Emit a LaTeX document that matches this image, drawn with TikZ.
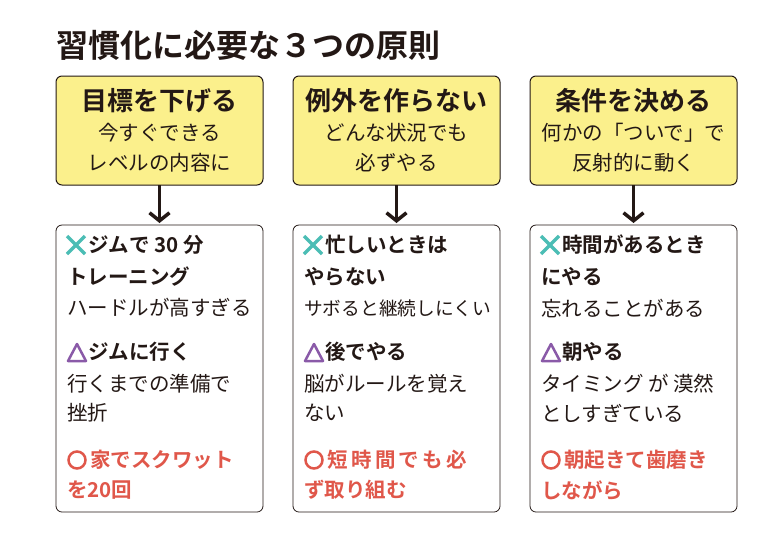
\documentclass[tikz,border=0pt]{standalone}
\usepackage{fontspec}
\setmainfont{Noto Sans CJK JP}
\newfontfamily\bjp[]{Noto Sans CJK JP Bold}
\usetikzlibrary{arrows.meta}
\definecolor{ylw}{HTML}{FBF08C}
\definecolor{tl}{HTML}{4BBDB5}
\definecolor{pp}{HTML}{8A5AA8}
\definecolor{rd}{HTML}{E0574A}
\definecolor{ink}{HTML}{231815}
\tikzset{x=1pt,y=-1pt,
 top/.style={draw=ink,line width=1pt,fill=ylw,rounded corners=6pt},
 bot/.style={draw=ink,line width=0.8pt,fill=white,rounded corners=6pt},
 ln/.style={anchor=west,inner sep=0pt,font=\fontsize{20.5}{20.5}\selectfont,text=ink},
 bl/.style={ln,font=\bjp\fontsize{20.5}{20.5}\selectfont},
 rl/.style={bl,text=rd},
 hd/.style={anchor=center,inner sep=0pt,font=\bjp\fontsize{26}{26}\selectfont,text=ink},
 sb/.style={anchor=center,inner sep=0pt,font=\fontsize{20.5}{20.5}\selectfont,text=ink},
 arr/.style={draw=ink,line width=3.5pt,-{Straight Barb[length=8pt,width=20pt,line width=3.5pt]}}}
\begin{document}
\begin{tikzpicture}
\useasboundingbox (0,0) rectangle (783,547);
\node[anchor=west,inner sep=0pt,font=\bjp\fontsize{32}{32}\selectfont,text=ink] (title) at (56,45) {習慣化に必要な３つの原則};
\foreach \i/\x in {1/56,2/293,3/530}{
 \draw[top] (\x,76) rectangle (\x+207,185);
 \draw[bot] (\x,225) rectangle (\x+207,512);
 \coordinate (t\i) at (\x+103.5,185);
 \coordinate (b\i) at (\x+103.5,223);
 \draw[arr] (t\i) -- (b\i);
}
% headings
\node[hd] (h1) at (159.5,101) {目標を下げる};
\node[sb] (s11) at (159.5,133) {今すぐできる};
\node[sb] (s12) at (159.5,163) {レベルの内容に};
\node[hd] (h2) at (396.5,101) {例外を作らない};
\node[sb] (s21) at (396.5,133) {どんな状況でも};
\node[sb] (s22) at (396.5,163) {必ずやる};
\node[hd] (h3) at (633.5,101) {条件を決める};
\node[sb] (s31) at (633.5,133) {何かの「ついで」で};
\node[sb] (s32) at (633.5,163) {反射的に動く};
% symbols
\foreach \x in {67,304,541}{
 \draw[tl,line width=3.5pt] (\x,236) -- (\x+18,254) (\x,254) -- (\x+18,236);
 \draw[pp,line width=2.5pt,line join=round] (\x+1,361) -- (\x+19,361) -- (\x+10,344) -- cycle;
 \draw[rd,line width=2.5pt] (\x+10,460) circle (8.5);
}
% column 1
\node[bl] (a1) at (88,245) {ジムで 30 分};
\node[bl] (a2) at (67,277) {トレーニング};
\node[ln] (a3) at (67,308) {ハードルが高すぎる};
\node[bl] (a4) at (88,352) {ジムに行く};
\node[ln] (a5) at (67,384) {行くまでの準備で};
\node[ln] (a6) at (67,413) {挫折};
\node[rl] (a7) at (90,460) {家でスクワット};
\node[rl] (a8) at (67,490) {を20回};
% column 2
\node[bl] (c1) at (325,245) {忙しいときは};
\node[bl] (c2) at (304,277) {やらない};
\node[ln,font=\fontsize{18.7}{18.7}\selectfont] (c3) at (304,308) {サボると継続しにくい};
\node[bl] (c4) at (325,352) {後でやる};
\node[ln] (c5) at (304,384) {脳がルールを覚え};
\node[ln] (c6) at (304,413) {ない};
\node[rl] (c7) at (327,460) {短\,時\,間\,で\,も\,必};
\node[rl] (c8) at (304,490) {ず取り組む};
% column 3
\node[bl] (d1) at (562,245) {時間があるとき};
\node[bl] (d2) at (541,277) {にやる};
\node[ln] (d3) at (541,308) {忘れることがある};
\node[bl] (d4) at (562,352) {朝やる};
\node[ln] (d5) at (541,384) {タイミング が 漠然};
\node[ln] (d6) at (541,413) {としすぎている};
\node[rl] (d7) at (564,460) {朝起きて歯磨き};
\node[rl] (d8) at (541,490) {しながら};
\end{tikzpicture}
\end{document}
